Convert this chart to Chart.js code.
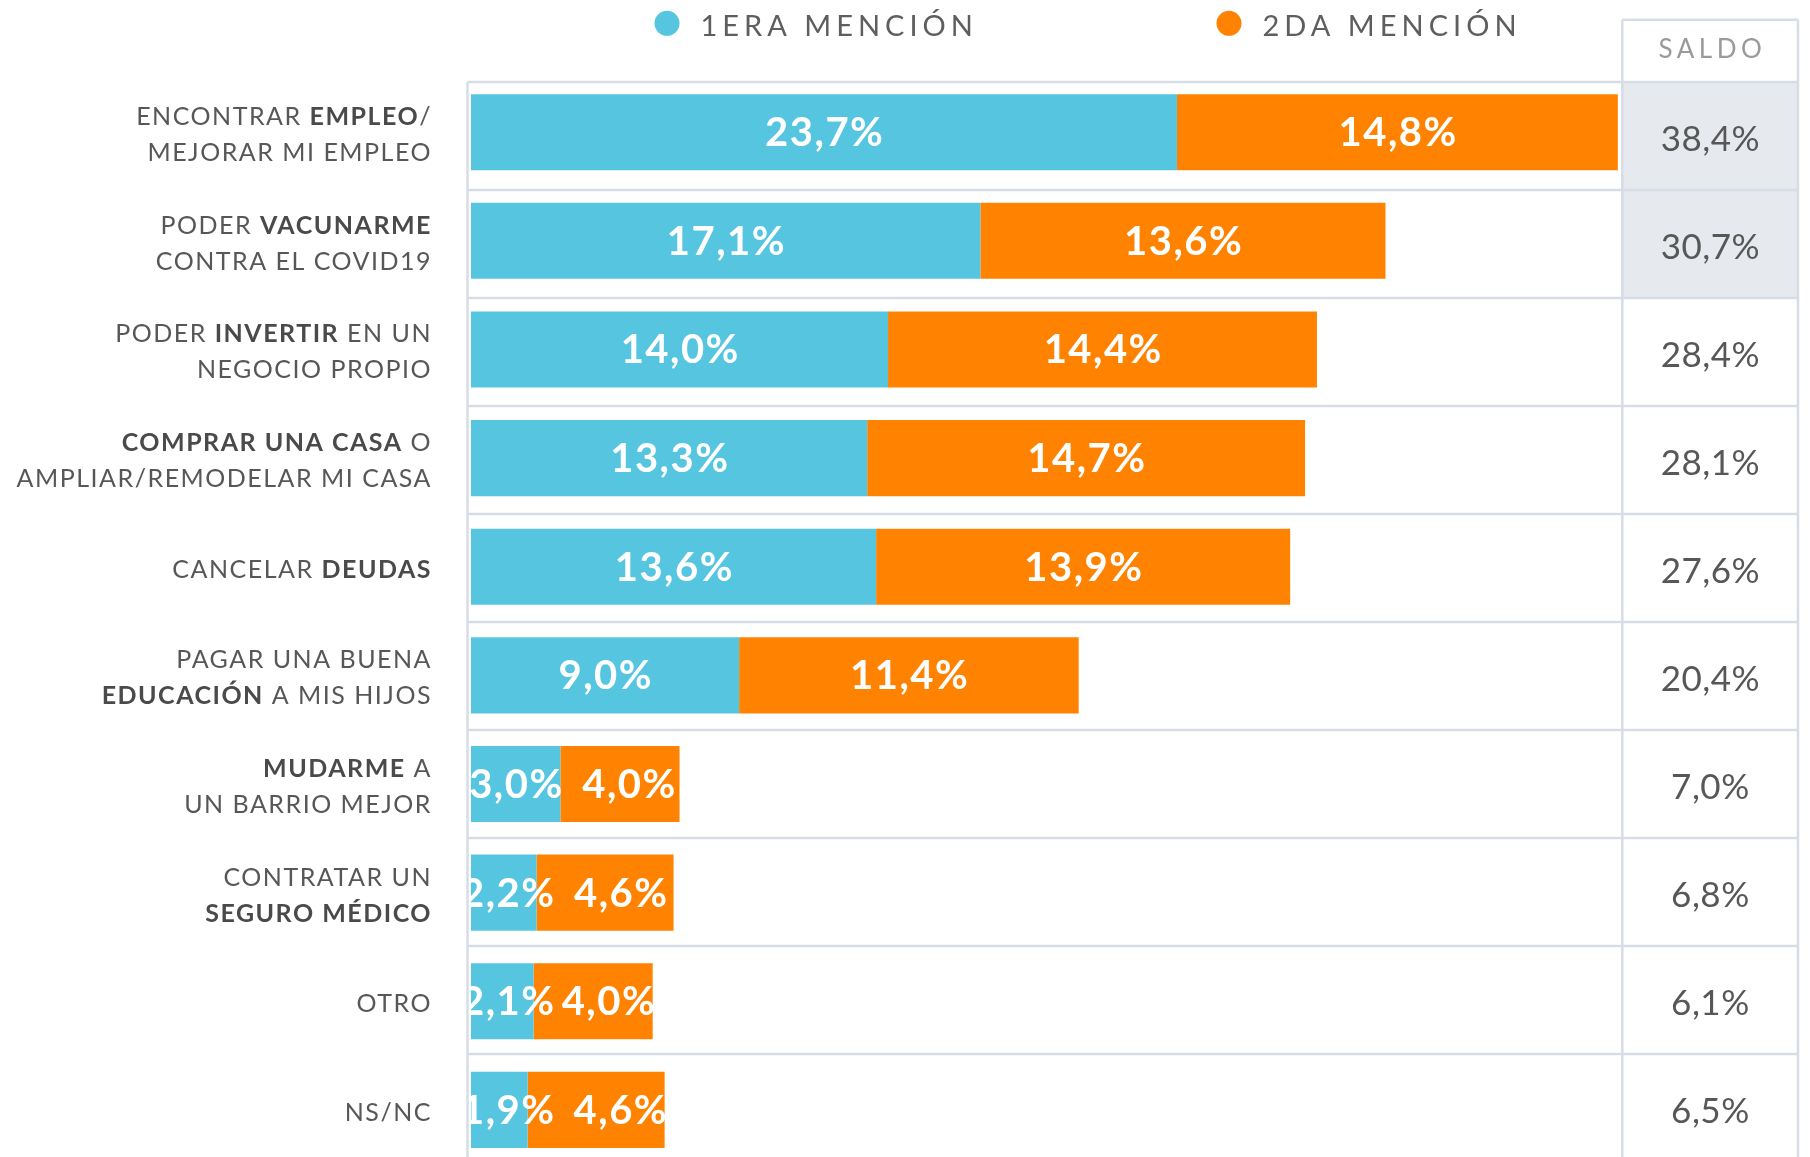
<!DOCTYPE html>
<html><head><meta charset="utf-8">
<script src="https://cdn.jsdelivr.net/npm/chart.js@4/dist/chart.umd.min.js"></script>
<style>html,body{margin:0;padding:0;background:#fff;overflow:hidden}#wrap{width:1810px;height:1166px;position:relative}</style>
</head><body><div id="wrap"><canvas id="c" width="1810" height="1166"></canvas></div>
<script>
// ---- data ----
const categories = [
  ["ENCONTRAR **EMPLEO**/", "MEJORAR MI EMPLEO"],
  ["PODER **VACUNARME**", "CONTRA EL COVID19"],
  ["PODER **INVERTIR** EN UN", "NEGOCIO PROPIO"],
  ["**COMPRAR UNA CASA** O", "AMPLIAR/REMODELAR MI CASA"],
  ["CANCELAR **DEUDAS**"],
  ["PAGAR UNA BUENA", "**EDUCACIÓN** A MIS HIJOS"],
  ["**MUDARME** A", "UN BARRIO MEJOR"],
  ["CONTRATAR UN", "**SEGURO MÉDICO**"],
  ["OTRO"],
  ["NS/NC"]
];
const primeraMencion = [23.7, 17.1, 14.0, 13.3, 13.6, 9.0, 3.0, 2.2, 2.1, 1.9];
const segundaMencion = [14.8, 13.6, 14.4, 14.7, 13.9, 11.4, 4.0, 4.6, 4.0, 4.6];
const saldo = [38.4, 30.7, 28.4, 28.1, 27.6, 20.4, 7.0, 6.8, 6.1, 6.5];
const seriesNames = ["1ERA MENCIÓN", "2DA MENCIÓN"];
const saldoTitle = "SALDO";
const saldoHighlightedRows = 2;

const CYAN = "#56C5E0", ORANGE = "#FF8300", GRID = "#d7dde6", TXT = "#575757";
const TABLE_TOP = 82, ROW_H = 108;
const fmt = v => v.toFixed(1).replace(".", ",") + "%";

function textW(ctx, s, ls) { return ctx.measureText(s).width - ls; }

function drawRich(ctx, line, xRight, baseline, size, ls) {
  const parts = line.split("**").map((t, i) => ({ t, b: i % 2 === 1 })).filter(p => p.t.length);
  ctx.letterSpacing = ls + "px";
  let total = 0;
  parts.forEach(p => { ctx.font = (p.b ? "bold " : "") + size + "px Lato"; p.w = ctx.measureText(p.t).width; total += p.w; });
  total -= ls;
  let x = xRight - total;
  ctx.textAlign = "left"; ctx.textBaseline = "alphabetic";
  parts.forEach(p => {
    ctx.font = (p.b ? "bold " : "") + size + "px Lato";
    ctx.fillStyle = p.b ? "#4a4a4a" : TXT;
    ctx.fillText(p.t, x, baseline);
    x += p.w;
  });
}

const tablePlugin = {
  id: "table",
  beforeDatasetsDraw(chart) {
    const { ctx, chartArea: a } = chart;
    const n = categories.length;
    const leftB = a.left - 3.5, sL = a.right, sR = a.right + 175.7, hTop = TABLE_TOP - 62.3;
    ctx.save();
    ctx.fillStyle = "#e6e9ee";
    ctx.fillRect(sL, TABLE_TOP, sR - sL, ROW_H * saldoHighlightedRows);
    ctx.strokeStyle = GRID; ctx.lineWidth = 2.5;
    ctx.beginPath();
    for (let k = 0; k <= n; k++) { const y = TABLE_TOP + k * ROW_H; ctx.moveTo(leftB, y); ctx.lineTo(sR, y); }
    ctx.moveTo(leftB, TABLE_TOP); ctx.lineTo(leftB, chart.height);
    ctx.moveTo(sL, hTop); ctx.lineTo(sL, chart.height);
    ctx.moveTo(sR, hTop); ctx.lineTo(sR, chart.height);
    ctx.moveTo(sL, hTop); ctx.lineTo(sR, hTop);
    ctx.stroke();
    ctx.restore();
  },
  afterDatasetsDraw(chart) {
    const { ctx, chartArea: a } = chart;
    const n = categories.length;
    const sL = a.right, sR = a.right + 175.7, sC = (sL + sR) / 2;
    const yS = chart.scales.y;
    ctx.save();
    // bar value labels
    const m0 = chart.getDatasetMeta(0), m1 = chart.getDatasetMeta(1);
    ctx.beginPath(); ctx.rect(a.left - 1, 0, chart.width, chart.height); ctx.clip();
    ctx.font = "bold 40px Lato"; ctx.letterSpacing = "1.5px";
    ctx.fillStyle = "#fff"; ctx.textBaseline = "middle"; ctx.textAlign = "left";
    for (let j = 0; j < n; j++) {
      const b0 = m0.data[j], b1 = m1.data[j];
      const t0 = fmt(primeraMencion[j]), t1 = fmt(segundaMencion[j]);
      const w0 = textW(ctx, t0, 1.5), w1 = textW(ctx, t1, 1.5);
      const c0 = (b0.x + b0.base) / 2;
      const l0 = Math.max(c0 - w0 / 2, b0.base - 10);
      let l1 = (b1.x + b1.base) / 2 - w1 / 2;
      l1 = Math.max(l1, l0 + w0 + 20);
      l1 = Math.min(l1, Math.max(b1.x - w1 + 2, (b1.x + b1.base) / 2 - w1 / 2));
      ctx.fillText(t0, l0, b0.y + 1);
      ctx.fillText(t1, l1, b1.y + 1);
    }
    ctx.restore();
    ctx.save();
    // category labels
    for (let j = 0; j < n; j++) {
      const yc = yS.getPixelForValue(j) + 2;
      const lines = categories[j];
      lines.forEach((ln, i) => {
        const lc = yc + (i - (lines.length - 1) / 2) * 36;
        drawRich(ctx, ln, a.left - 40.5, lc + 9, 25, 1.5);
      });
    }
    // saldo values
    ctx.font = "35px Lato"; ctx.letterSpacing = "0.5px"; ctx.fillStyle = TXT;
    ctx.textBaseline = "middle"; ctx.textAlign = "left";
    for (let j = 0; j < n; j++) {
      const t = fmt(saldo[j]); const w = textW(ctx, t, 0.5);
      ctx.fillText(t, sC - w / 2, TABLE_TOP + ROW_H * (j + 0.5) + 4);
    }
    // saldo header
    ctx.font = "26px Lato"; ctx.letterSpacing = "4.5px"; ctx.fillStyle = "#9a9a9a";
    ctx.textBaseline = "alphabetic";
    let w = textW(ctx, saldoTitle, 4.5);
    ctx.fillText(saldoTitle, sC - w / 2, 58.3);
    // legend
    const leg = [{ x: 667, c: CYAN }, { x: 1229, c: ORANGE }];
    ctx.font = "29px Lato"; ctx.letterSpacing = "5px";
    leg.forEach((l, i) => {
      ctx.fillStyle = l.c; ctx.beginPath(); ctx.arc(l.x, 23.3, 12.5, 0, Math.PI * 2); ctx.fill();
      ctx.fillStyle = "#5e5e5e";
      ctx.fillText(seriesNames[i], l.x + 33.5, 36);
    });
    ctx.restore();
  }
};

new Chart(document.getElementById("c"), {
  type: "bar",
  data: {
    labels: categories.map(l => l.join(" ").replace(/\*\*/g, "")),
    datasets: [
      { label: seriesNames[0], data: primeraMencion, backgroundColor: CYAN },
      { label: seriesNames[1], data: segundaMencion, backgroundColor: ORANGE }
    ]
  },
  options: {
    indexAxis: "y",
    responsive: false, animation: false, devicePixelRatio: 1,
    layout: { padding: { left: 471, right: 187.7, top: 77.9, bottom: 1.8 } },
    datasets: { bar: { barPercentage: 0.7, categoryPercentage: 1, borderWidth: 0 } },
    scales: {
      x: { type: "linear", stacked: true, min: 0, max: 38.65, display: false },
      y: { stacked: true, display: false }
    },
    plugins: { legend: { display: false }, tooltip: { enabled: false } }
  },
  plugins: [tablePlugin]
});
</script>
</body></html>
